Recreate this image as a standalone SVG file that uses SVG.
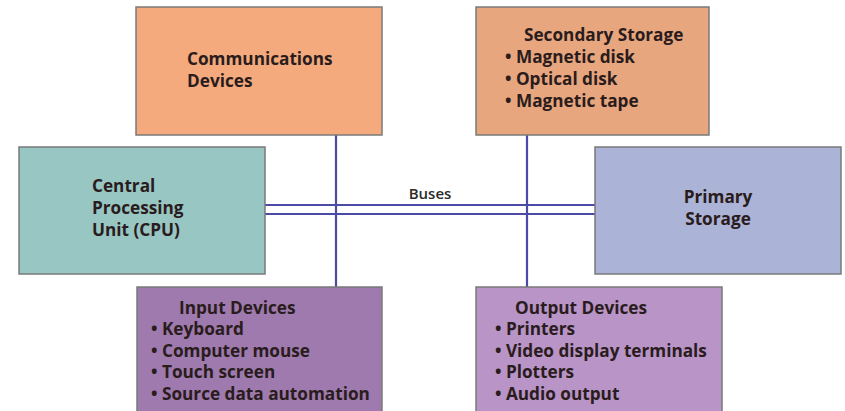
<svg xmlns="http://www.w3.org/2000/svg" width="845" height="411" viewBox="0 0 845 411">
  <style>
    .box { stroke: #7a7a7a; stroke-width: 1.5; }
    .lbl { font-family: "Open Sans", "Liberation Sans", sans-serif; font-weight: bold; font-size: 17.2px; fill: #2a1c1c; }
    .bus { stroke: #4b4aa6; stroke-width: 2.2; fill: none; }
    .bus-lbl { font-family: "Open Sans", "Liberation Sans", sans-serif; font-weight: 600; font-size: 15px; fill: #2a2a2a; }
  </style>
  <rect width="845" height="411" fill="#ffffff"/>

  <!-- bus lines -->
  <g id="connectors">
    <line class="bus" x1="336" y1="135" x2="336" y2="287"/>
    <line class="bus" x1="527" y1="135" x2="527" y2="287"/>
    <line class="bus" x1="265" y1="205" x2="595" y2="205"/>
    <line class="bus" x1="265" y1="214" x2="595" y2="214"/>
    <text class="bus-lbl" x="430" y="199" text-anchor="middle">Buses</text>
  </g>

  <g id="communications">
    <rect class="box" x="136" y="7" width="246" height="128" fill="#f4aa7d"/>
    <text class="lbl" x="187" y="65">Communications</text>
    <text class="lbl" x="187" y="87">Devices</text>
  </g>

  <g id="secondary-storage">
    <rect class="box" x="476" y="7" width="233" height="128" fill="#e8a67e"/>
    <text class="lbl" x="524" y="41">Secondary Storage</text>
    <text class="lbl" x="505" y="63">• Magnetic disk</text>
    <text class="lbl" x="505" y="85">• Optical disk</text>
    <text class="lbl" x="505" y="107">• Magnetic tape</text>
  </g>

  <g id="cpu">
    <rect class="box" x="19" y="147" width="246" height="127" fill="#97c6c3"/>
    <text class="lbl" x="92" y="192">Central</text>
    <text class="lbl" x="92" y="214">Processing</text>
    <text class="lbl" x="92" y="236">Unit (CPU)</text>
  </g>

  <g id="primary-storage">
    <rect class="box" x="595" y="147" width="246" height="127" fill="#abb3d6"/>
    <text class="lbl" x="718" y="203" text-anchor="middle">Primary</text>
    <text class="lbl" x="718" y="225" text-anchor="middle">Storage</text>
  </g>

  <g id="input-devices">
    <rect class="box" x="137" y="287" width="245" height="130" fill="#9e7aae"/>
    <text class="lbl" x="179" y="314">Input Devices</text>
    <text class="lbl" x="151" y="335">• Keyboard</text>
    <text class="lbl" x="151" y="357">• Computer mouse</text>
    <text class="lbl" x="151" y="378">• Touch screen</text>
    <text class="lbl" x="151" y="400">• Source data automation</text>
  </g>

  <g id="output-devices">
    <rect class="box" x="476" y="287" width="246" height="130" fill="#b894c7"/>
    <text class="lbl" x="515" y="314">Output Devices</text>
    <text class="lbl" x="495" y="335">• Printers</text>
    <text class="lbl" x="495" y="357">• Video display terminals</text>
    <text class="lbl" x="495" y="378">• Plotters</text>
    <text class="lbl" x="495" y="400">• Audio output</text>
  </g>
</svg>
